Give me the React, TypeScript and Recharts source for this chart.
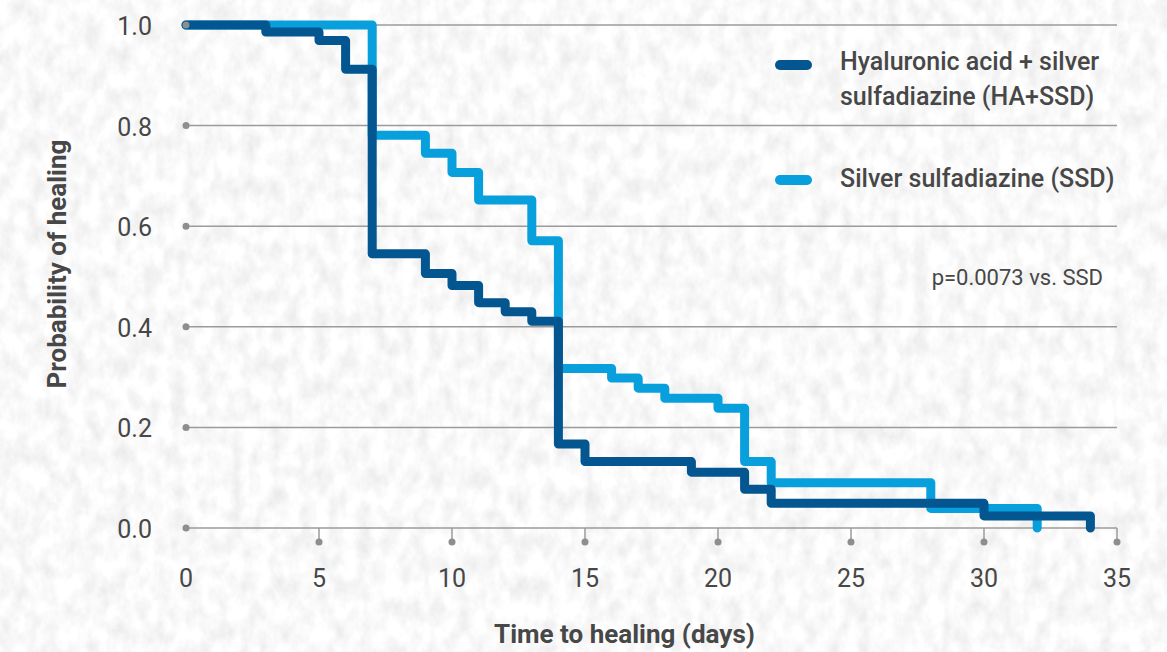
import React from 'react';
import { LineChart, Line, XAxis, YAxis, CartesianGrid } from 'recharts';

// HA + SSD (dark blue)
const haDays = [0, 3, 5, 6, 7, 9, 10, 11, 12, 13, 14, 15, 19, 21, 22, 30, 34];
const haProb = [1.0, 0.986, 0.969, 0.912, 0.545, 0.506, 0.482, 0.448, 0.43, 0.411, 0.167, 0.132, 0.111, 0.077, 0.049, 0.024, 0.0];
// SSD (light blue)
const ssdDays = [0, 7, 9, 10, 11, 13, 14, 16, 17, 18, 20, 21, 22, 28, 32];
const ssdProb = [1.0, 0.781, 0.745, 0.707, 0.652, 0.571, 0.317, 0.298, 0.278, 0.258, 0.238, 0.132, 0.09, 0.039, 0.0];

const xTicks = [0, 5, 10, 15, 20, 25, 30, 35];
const yTicks = [0, 0.2, 0.4, 0.6, 0.8, 1.0];

const haLegendLines = ['Hyaluronic acid + silver', 'sulfadiazine (HA+SSD)'];
const ssdLegendLines = ['Silver sulfadiazine (SSD)'];
const pValueText = 'p=0.0073 vs. SSD';
const xTitle = 'Time to healing (days)';
const yTitle = 'Probability of healing';

const haData = haDays.map((d, i) => ({ day: d, p: haProb[i] }));
const ssdData = ssdDays.map((d, i) => ({ day: d, p: ssdProb[i] }));

const DARK = '#03568f';
const LIGHT = '#08a0dc';
const TEXT = '#474747';
const GRID = '#9b9b9b';
const FONT = 'Roboto, "Open Sans", sans-serif';

const YTick = (props: any) => {
  const { x, y, payload } = props;
  return (
    <g>
      <circle cx={x + 34} cy={y} r={3.5} fill="#8e8e8e" />
      <text x={x} y={y + 10} textAnchor="end" fontSize={25} fill={TEXT} fontFamily={FONT}>
        {Number(payload.value).toFixed(1)}
      </text>
    </g>
  );
};

const XTick = (props: any) => {
  const { x, y, payload } = props;
  return (
    <g>
      {payload.value !== 0 && (
        <>
          <line x1={x} x2={x} y1={y} y2={y + 13} stroke={GRID} strokeWidth={1.5} />
          <circle cx={x} cy={y + 14} r={3.5} fill="#8e8e8e" />
        </>
      )}
      <text x={x} y={y + 59} textAnchor="middle" fontSize={25} fill={TEXT} fontFamily={FONT}>
        {payload.value}
      </text>
    </g>
  );
};

const YTitle = (props: any) => {
  const { viewBox } = props;
  const cx = viewBox.x + 57;
  const cy = viewBox.y + 239;
  return (
    <text
      x={cx}
      y={cy}
      transform={`rotate(-90 ${cx} ${cy})`}
      textAnchor="middle"
      dominantBaseline="central"
      fontSize={26}
      fontWeight={700}
      fill={TEXT}
      fontFamily={FONT}
    >
      {yTitle}
    </text>
  );
};

const XTitle = (props: any) => {
  const { viewBox } = props;
  const cx = viewBox.x + viewBox.width / 2 - 27;
  return (
    <text x={cx} y={643} textAnchor="middle" fontSize={26} fontWeight={700} fill={TEXT} fontFamily={FONT}>
      {xTitle}
    </text>
  );
};

export default function App() {
  return (
    <div
      style={{
        position: 'fixed',
        left: 0,
        top: 0,
        width: 1167,
        height: 652,
        background: '#efefef',
        overflow: 'hidden',
      }}
    >
      <svg width={1167} height={652} style={{ position: 'absolute', left: 0, top: 0 }}>
        <defs>
          <filter id="paperTex" x="0" y="0" width="100%" height="100%">
            <feTurbulence type="fractalNoise" baseFrequency="0.07 0.045" numOctaves={4} seed={11} />
            <feColorMatrix
              type="matrix"
              values="0.3 0 0 0 0.8  0.3 0 0 0 0.8  0.3 0 0 0 0.8  0 0 0 0 1"
            />
          </filter>
        </defs>
        <rect x={0} y={0} width={1167} height={652} filter="url(#paperTex)" />
      </svg>
      <div style={{ position: 'absolute', left: 0, top: 0 }}>
        <LineChart width={1167} height={652} margin={{ top: 25, right: 50, left: 0, bottom: 0 }}>
          <CartesianGrid horizontal vertical={false} stroke={GRID} strokeWidth={1.5} />
          <XAxis
            type="number"
            dataKey="day"
            domain={[0, 35]}
            ticks={xTicks}
            height={124}
            axisLine={false}
            tickLine={false}
            tickSize={0}
            tickMargin={0}
            tick={<XTick />}
            interval={0}
            label={<XTitle />}
            allowDuplicatedCategory={false}
          />
          <YAxis
            type="number"
            domain={[0, 1]}
            ticks={yTicks}
            width={186}
            axisLine={false}
            tickLine={false}
            tickSize={0}
            tickMargin={34}
            tick={<YTick />}
            interval={0}
            label={<YTitle />}
          />
          <Line
            data={ssdData}
            dataKey="p"
            type="stepAfter"
            stroke={LIGHT}
            strokeWidth={9}
            strokeLinecap="round"
            strokeLinejoin="round"
            dot={false}
            isAnimationActive={false}
          />
          <Line
            data={haData}
            dataKey="p"
            type="stepAfter"
            stroke={DARK}
            strokeWidth={9}
            strokeLinecap="round"
            strokeLinejoin="round"
            dot={false}
            isAnimationActive={false}
          />
        </LineChart>
      </div>
      <svg
        width={1167}
        height={652}
        style={{ position: 'absolute', left: 0, top: 0, pointerEvents: 'none' }}
      >
        <line x1={780} x2={807} y1={65} y2={65} stroke={DARK} strokeWidth={10} strokeLinecap="round" />
        <line x1={780} x2={807} y1={180} y2={180} stroke={LIGHT} strokeWidth={10} strokeLinecap="round" />
        <g fontFamily={FONT} fontSize={25} fontWeight={500} fill={TEXT}>
          {haLegendLines.map((t, i) => (
            <text key={t} x={840} y={70 + i * 35}>
              {t}
            </text>
          ))}
          {ssdLegendLines.map((t, i) => (
            <text key={t} x={840} y={187 + i * 35}>
              {t}
            </text>
          ))}
        </g>
        <text x={1103} y={285} textAnchor="end" fontFamily={FONT} fontSize={22} fill={TEXT}>
          {pValueText}
        </text>
      </svg>
    </div>
  );
}
